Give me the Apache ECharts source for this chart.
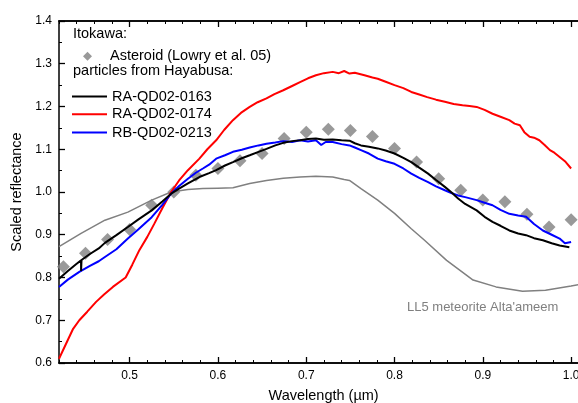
<!DOCTYPE html>
<html>
<head>
<meta charset="utf-8">
<script src="https://cdn.jsdelivr.net/npm/echarts@6/dist/echarts.min.js"></script>
<style>
html,body{margin:0;padding:0;background:#fff;}
#chart{width:578px;height:403px;}
</style>
</head>
<body>
<div id="chart"></div>
<script>
// ---- data ----
const asteroidWl = [0.425,0.45,0.475,0.5,0.525,0.55,0.575,0.6,0.625,0.65,0.675,0.7,0.725,0.75,0.775,0.8,0.825,0.85,0.875,0.9,0.925,0.95,0.975,1.0];
const asteroidRefl = [0.825,0.857,0.889,0.912,0.969,1.000,1.039,1.055,1.073,1.090,1.125,1.140,1.147,1.144,1.130,1.102,1.070,1.031,1.004,0.981,0.977,0.948,0.918,0.935];

const qd0163 = [
[0.420,0.797],[0.430,0.815],[0.440,0.832],[0.445,0.840],[0.445,0.815],[0.4455,0.841],[0.455,0.855],[0.465,0.868],
[0.472,0.881],[0.485,0.899],[0.498,0.918],[0.510,0.936],[0.525,0.957],[0.537,0.978],[0.547,0.996],[0.556,1.008],
[0.566,1.020],[0.579,1.035],[0.590,1.044],[0.598,1.051],[0.608,1.062],[0.617,1.070],[0.627,1.079],[0.636,1.086],
[0.646,1.094],[0.655,1.101],[0.665,1.109],[0.674,1.115],[0.684,1.119],[0.693,1.121],[0.702,1.124],[0.711,1.125],
[0.720,1.122],[0.730,1.123],[0.740,1.121],[0.749,1.120],[0.755,1.114],[0.762,1.109],[0.771,1.106],[0.781,1.102],
[0.790,1.097],[0.800,1.090],[0.810,1.080],[0.819,1.070],[0.828,1.057],[0.838,1.043],[0.847,1.028],[0.857,1.012],
[0.865,0.998],[0.872,0.985],[0.880,0.972],[0.893,0.957],[0.902,0.942],[0.911,0.930],[0.920,0.921],[0.930,0.910],
[0.940,0.903],[0.949,0.899],[0.958,0.892],[0.968,0.887],[0.978,0.880],[0.987,0.875],[0.998,0.871]
];

const qd0174 = [
[0.420,0.610],[0.428,0.645],[0.436,0.680],[0.443,0.700],[0.452,0.720],[0.462,0.743],[0.471,0.760],[0.481,0.778],
[0.4955,0.800],[0.503,0.830],[0.511,0.864],[0.520,0.895],[0.528,0.926],[0.537,0.962],[0.547,1.000],[0.556,1.027],
[0.566,1.051],[0.579,1.078],[0.588,1.100],[0.598,1.121],[0.607,1.145],[0.617,1.168],[0.626,1.185],[0.636,1.199],
[0.645,1.210],[0.655,1.219],[0.664,1.229],[0.674,1.238],[0.684,1.248],[0.693,1.257],[0.702,1.266],[0.711,1.273],
[0.720,1.278],[0.730,1.281],[0.737,1.278],[0.743,1.283],[0.749,1.277],[0.755,1.279],[0.766,1.273],[0.775,1.268],
[0.781,1.265],[0.790,1.258],[0.800,1.250],[0.810,1.243],[0.819,1.234],[0.828,1.228],[0.837,1.222],[0.847,1.216],
[0.857,1.211],[0.867,1.206],[0.877,1.203],[0.885,1.201],[0.893,1.199],[0.902,1.192],[0.911,1.183],[0.920,1.176],
[0.930,1.168],[0.936,1.160],[0.942,1.156],[0.947,1.140],[0.953,1.129],[0.958,1.127],[0.964,1.121],[0.970,1.110],
[0.976,1.098],[0.981,1.092],[0.987,1.082],[0.993,1.072],[1.000,1.055]
];

const qd0213 = [
[0.420,0.778],[0.430,0.795],[0.443,0.813],[0.455,0.827],[0.465,0.838],[0.472,0.848],[0.485,0.866],[0.498,0.891],
[0.510,0.913],[0.525,0.941],[0.537,0.970],[0.547,0.996],[0.556,1.014],[0.566,1.031],[0.575,1.045],[0.583,1.055],
[0.590,1.064],[0.598,1.078],[0.608,1.086],[0.617,1.094],[0.627,1.099],[0.636,1.104],[0.646,1.109],[0.655,1.113],
[0.665,1.116],[0.674,1.119],[0.684,1.117],[0.693,1.121],[0.702,1.118],[0.711,1.121],[0.717,1.110],[0.722,1.117],
[0.730,1.117],[0.740,1.112],[0.749,1.109],[0.755,1.104],[0.762,1.098],[0.771,1.090],[0.781,1.078],[0.790,1.072],
[0.800,1.066],[0.810,1.055],[0.819,1.043],[0.828,1.033],[0.838,1.023],[0.847,1.013],[0.857,1.004],[0.865,0.997],
[0.872,0.992],[0.880,0.988],[0.893,0.981],[0.902,0.975],[0.911,0.969],[0.920,0.958],[0.930,0.949],[0.940,0.945],
[0.949,0.942],[0.958,0.925],[0.968,0.910],[0.978,0.900],[0.987,0.891],[0.993,0.880],[1.000,0.883]
];

const altaameem = [
[0.420,0.872],[0.445,0.903],[0.472,0.934],[0.498,0.953],[0.525,0.981],[0.547,1.000],[0.566,1.006],[0.583,1.008],
[0.600,1.009],[0.617,1.010],[0.636,1.020],[0.655,1.027],[0.674,1.032],[0.693,1.035],[0.711,1.037],[0.730,1.035],
[0.743,1.029],[0.749,1.027],[0.762,1.008],[0.781,0.981],[0.800,0.950],[0.819,0.914],[0.834,0.887],[0.859,0.840],
[0.889,0.794],[0.915,0.778],[0.945,0.768],[0.971,0.770],[1.000,0.780],[1.010,0.784]
];

const xMajorTicks = [0.5,0.6,0.7,0.8,0.9,1.0,1.1];
const seriesNames = ['Asteroid (Lowry et al. 05)','RA-QD02-0163','RA-QD02-0174','RB-QD02-0213'];

// ---- chart ----
const FONT = '"Liberation Sans", Arial, sans-serif';
const chart = echarts.init(document.getElementById('chart'), null, {renderer:'canvas'});
const asteroidData = asteroidWl.map((w,i)=>[w, asteroidRefl[i]]);

function xAxisBase(pos){
  return {
    type:'value', position:pos, min:0.42, max:1.1, gridIndex:0,
    splitLine:{show:false},
    axisLine:{show:true, lineStyle:{color:'#000', width:1.5}},
  };
}

const diamondIcon = 'path://M0,4.5L0.01,4.5L0,4.51Z M13,4.5L17.5,0L22,4.5L17.5,9Z M34.99,4.5L35,4.5L35,4.51Z';
const legendText = {fontSize:14.5, color:'#000', fontFamily:FONT};

const option = {
  animation:false,
  backgroundColor:'#fff',
  textStyle:{fontFamily:FONT},
  grid:{left:59, width:600.4, top:21, bottom:40, containLabel:false, outerBoundsMode:'none'},
  xAxis:[
    Object.assign(xAxisBase('bottom'), {
      axisTick:{inside:true, length:6, customValues:xMajorTicks, lineStyle:{color:'#000', width:1.3}},
      axisLabel:{customValues:xMajorTicks, margin:7, color:'#000', fontSize:12, fontFamily:FONT,
                 formatter:(v)=>v.toFixed(1)}
    }),
    Object.assign(xAxisBase('bottom'), {
      interval:0.02,
      axisTick:{inside:true, length:3, lineStyle:{color:'#000', width:1}},
      axisLabel:{show:false}
    }),
    Object.assign(xAxisBase('top'), {
      axisTick:{inside:true, length:6, customValues:xMajorTicks, lineStyle:{color:'#000', width:1.3}},
      axisLabel:{show:false}
    }),
    Object.assign(xAxisBase('top'), {
      interval:0.02,
      axisTick:{inside:true, length:3, lineStyle:{color:'#000', width:1}},
      axisLabel:{show:false}
    })
  ],
  yAxis:[{
    type:'value', min:0.6, max:1.4, interval:0.1,
    name:'Scaled reflectance', nameLocation:'middle', nameGap:34, nameRotate:90,
    nameTextStyle:{fontSize:14.5, color:'#000', fontFamily:FONT},
    splitLine:{show:false},
    axisLine:{show:true, lineStyle:{color:'#000', width:1.5}},
    axisTick:{inside:true, length:6, lineStyle:{color:'#000', width:1.3}},
    minorTick:{show:true, splitNumber:2, length:3, lineStyle:{color:'#000', width:1}},
    axisLabel:{margin:7, color:'#000', fontSize:12, fontFamily:FONT, formatter:(v)=>v.toFixed(1)}
  }],
  legend:[
    {data:[seriesNames[0]], orient:'vertical', left:70, top:48.8, padding:0, icon:diamondIcon,
     itemWidth:35, itemHeight:9, itemStyle:{color:'#808080'}, textStyle:legendText},
    {data:[seriesNames[1]], orient:'vertical', left:72, top:89, padding:0, icon:'rect',
     itemWidth:35, itemHeight:2, textStyle:legendText},
    {data:[seriesNames[2]], orient:'vertical', left:72, top:106.7, padding:0, icon:'rect',
     itemWidth:35, itemHeight:2, textStyle:legendText},
    {data:[seriesNames[3]], orient:'vertical', left:72, top:125, padding:0, icon:'rect',
     itemWidth:35, itemHeight:2, textStyle:legendText}
  ],
  graphic:[
    {type:'text', left:73, top:26, style:{text:'Itokawa:', font:'14.5px ' + FONT, fill:'#000'}},
    {type:'text', left:73, top:63, style:{text:'particles from Hayabusa:', font:'14.5px ' + FONT, fill:'#000'}},
    {type:'text', left:407, top:300.5, style:{text:"LL5 meteorite Alta'ameem", font:'13px ' + FONT, fill:'#808080'}},
    {type:'text', x:323.6, y:396, style:{text:'Wavelength (µm)', font:'14.5px ' + FONT, fill:'#000',
      textAlign:'center', textVerticalAlign:'middle'}}
  ],
  series:[
    {name:seriesNames[0], type:'scatter', data:asteroidData, symbol:'diamond', symbolSize:13,
     itemStyle:{color:'#808080'}, z:1},
    {name:'LL5 meteorite', type:'line', data:altaameem, showSymbol:false, symbol:'none',
     lineStyle:{color:'#808080', width:1.5}, itemStyle:{color:'#808080'}, z:2},
    {name:seriesNames[2], type:'line', data:qd0174, showSymbol:false, symbol:'none',
     lineStyle:{color:'#ff0000', width:2}, itemStyle:{color:'#ff0000'}, z:3},
    {name:seriesNames[3], type:'line', data:qd0213, showSymbol:false, symbol:'none',
     lineStyle:{color:'#0000ff', width:2}, itemStyle:{color:'#0000ff'}, z:4},
    {name:seriesNames[1], type:'line', data:qd0163, showSymbol:false, symbol:'none',
     lineStyle:{color:'#000000', width:2}, itemStyle:{color:'#000000'}, z:5}
  ]
};
chart.setOption(option);
</script>
</body>
</html>
